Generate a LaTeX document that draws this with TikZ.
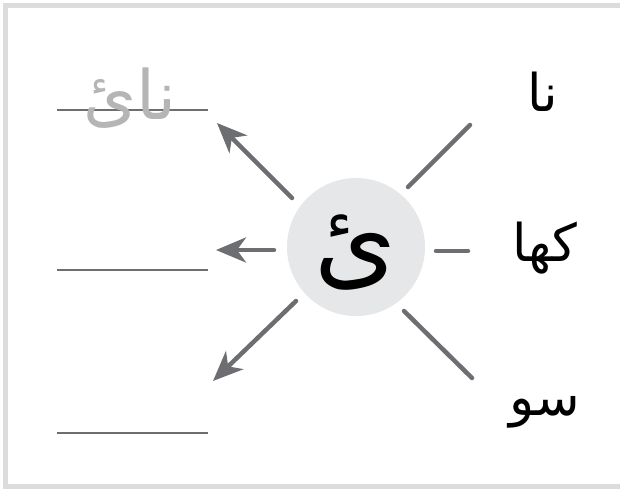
\documentclass[tikz,border=0pt]{standalone}
\usepackage{fontspec}
\newfontfamily\arabicfont[Script=Arabic]{DejaVu Sans}
\TeXXeTstate=1
\usetikzlibrary{arrows.meta}
\definecolor{framegray}{HTML}{DCDCDC}
\definecolor{linegray}{HTML}{6D6E71}
\definecolor{circlegray}{HTML}{E6E7E8}
\definecolor{hintgray}{HTML}{B5B5B5}
\tikzset{
  ray/.style={draw=linegray, line width=4.5pt, line cap=round},
  arrowray/.style={ray, -{Stealth[length=30pt,width=25pt,inset=9pt]}},
  blank/.style={draw=linegray, line width=1.6pt},
  word/.style={font=\arabicfont\fontsize{52}{60}\selectfont, inner sep=0pt},
}
\begin{document}
\begin{tikzpicture}[x=1pt,y=-1pt]
\useasboundingbox (0,0) rectangle (620,490);
% frame
\fill[framegray] (3,3) rectangle (620,8);
\fill[framegray] (3,3) rectangle (8,489);
\fill[framegray] (3,484) rectangle (620,489);
% centre
\node[circle, fill=circlegray, minimum size=138pt, inner sep=0pt] (c) at (356,247) {};
\node[font=\arabicfont\fontsize{105}{110}\selectfont, inner sep=0pt] (cl) at (356,252) {\beginR ئ\endR};
% arrow coordinates
\coordinate (a1s) at (292,198); \coordinate (a1e) at (217,123);
\coordinate (a2s) at (274,250); \coordinate (a2e) at (216,250);
\coordinate (a3s) at (296,301); \coordinate (a3e) at (213,381);
\draw[arrowray] (a1s) -- (a1e);
\draw[arrowray] (a2s) -- (a2e);
\draw[arrowray] (a3s) -- (a3e);
% right rays
\coordinate (r1s) at (408,187); \coordinate (r1e) at (470,125);
\coordinate (r2s) at (436,251); \coordinate (r2e) at (468,251);
\coordinate (r3s) at (404,311); \coordinate (r3e) at (472,378);
\draw[ray] (r1s) -- (r1e);
\draw[ray] (r2s) -- (r2e);
\draw[ray] (r3s) -- (r3e);
% blanks
\coordinate (b1s) at (57,110); \coordinate (b1e) at (208,110);
\coordinate (b2s) at (57,270); \coordinate (b2e) at (208,270);
\coordinate (b3s) at (57,433); \coordinate (b3e) at (208,433);
\draw[blank] (b1s) -- (b1e);
\draw[blank] (b2s) -- (b2e);
\draw[blank] (b3s) -- (b3e);
% hint word
\node[word, text=hintgray, font=\arabicfont\fontsize{68}{72}\selectfont] (h) at (130,98) {\beginR نائ\endR};
% right words
\node[word] (w1) at (543,92) {\beginR نا\endR};
\node[word] (w2) at (545,248) {\beginR کھا\endR};
\node[word] (w3) at (545,412) {\beginR سو\endR};
\end{tikzpicture}
\end{document}
